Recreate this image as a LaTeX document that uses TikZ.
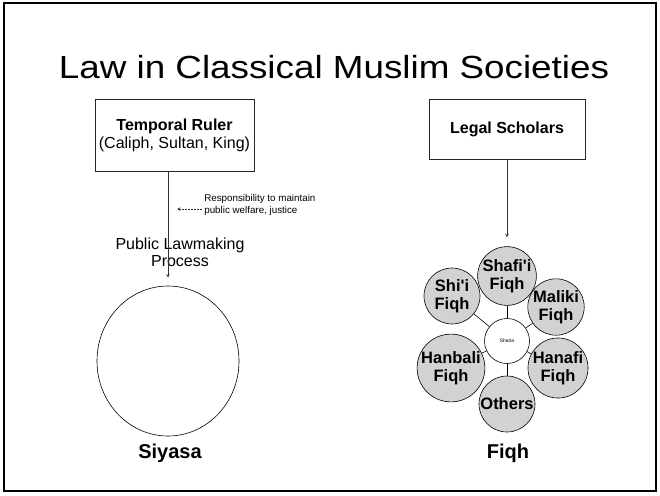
\documentclass[tikz,border=0pt]{standalone}
\usepackage{fontspec}
\setmainfont{Liberation Sans}
\usetikzlibrary{positioning,%
  arrows,%
  shapes.geometric,%
  calc%
}

\begin{document}
\begin{tikzpicture}
                    [
                        x=1pt, y=-1pt,
                        every path/.style={line width=.6pt},
                        box/.style={draw=black!85, rectangle, align=center, font=\fontsize{16}{18}\selectfont},
                        petal/.style={draw, circle, fill=gray!35, minimum size=56pt, inner sep=0pt, align=center, font=\bfseries\fontsize{16.5}{17.5}\selectfont},
                        link/.style={draw=black!80, ->, >=stealth},
                        label/.style={anchor=base, font=\bfseries\fontsize{20}{24}\selectfont}
                    ]

                    % Rahmen
                    \useasboundingbox (0,0) rectangle (660,495);
                    \draw[line width=1.5pt] (4,3) rectangle (656,491);

                    \node[anchor=base, font=\fontsize{32}{36}\selectfont] (title) at (334,78)
                        {\scalebox{1.15}[1]{Law in Classical Muslim Societies}};

                    % Siyasa
                    \node[box, minimum width=159pt, minimum height=72pt] (ruler) at (174.5,135)
                        {\textbf{Temporal Ruler}\\(Caliph, Sultan, King)};
                    \node[draw, ellipse, minimum width=142pt, minimum height=150pt, inner sep=0pt] (siyasa) at (168,361) {};
                    \node[label] (siyasalabel) at (170,458) {Siyasa};
                    \node[align=center, font=\fontsize{16}{17}\selectfont] (process) at (180,252)
                        {Public Lawmaking\\Process};
                    \node[anchor=west, align=left, inner sep=2pt, font=\fontsize{9.8}{11.5}\selectfont] (duty) at (202,205)
                        {Responsibility to maintain\\public welfare, justice};
                    \coordinate (dutyend) at (177,209);

                    \draw[link, shorten >=8pt] (ruler.south -| siyasa.north) -- (siyasa.north);
                    \draw[link, dashed, dash pattern=on 2pt off 1pt] (duty.west |- dutyend) -- (dutyend);

                    % Fiqh
                    \node[box, minimum width=156pt, minimum height=60pt] (scholars) at (507,129.5)
                        {\textbf{Legal Scholars}};
                    \node[draw, circle, fill=white, minimum size=45pt, inner sep=0pt, font=\fontsize{5}{6}\selectfont] (sharia) at (507,341) {Sharia};
                    \foreach \nm/\px/\py/\txt in {shafii/507/276/{Shafi\textquotesingle i\\Fiqh},
                                                  shii/452/296/{Shi\textquotesingle i\\Fiqh},
                                                  maliki/556/307/{Maliki\\Fiqh},
                                                  hanbali/451/368/{Hanbali\\Fiqh},
                                                  hanafi/558/368/{Hanafi\\Fiqh},
                                                  others/507/404/{Others}}
                    {
                        \node[petal] (\nm) at (\px,\py) {\txt};
                        \draw (sharia) -- (\nm);
                    }
                    \node[label] (fiqhlabel) at (508,458) {Fiqh};

                    \draw[link, shorten >=9pt] (scholars) -- (shafii);
                \end{tikzpicture}
\end{document}
